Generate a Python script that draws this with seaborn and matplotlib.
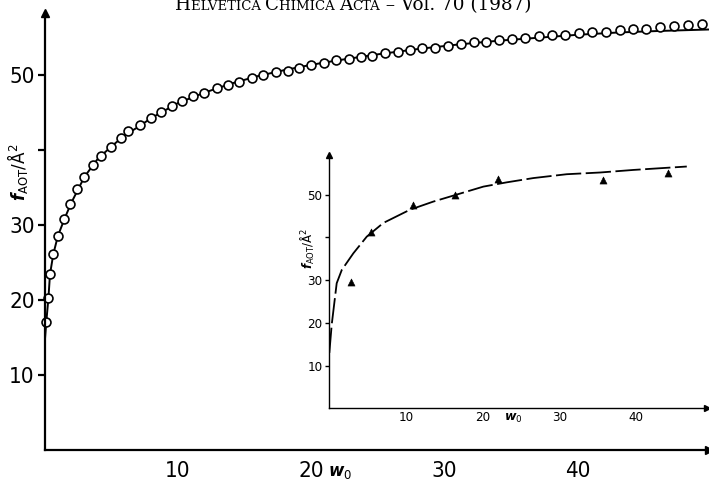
import matplotlib
matplotlib.use("Agg")
import matplotlib.pyplot as plt
import seaborn as sns

# main panel: computed points (circles) and fitted curve
w_pts = [0.13, 0.29, 0.41, 0.66, 1.01, 1.48, 1.91, 2.41, 2.98, 3.63, 4.25, 4.96, 5.71,
         6.28, 7.15, 7.96, 8.75, 9.53, 10.32, 11.15, 11.97, 12.94, 13.77, 14.59, 15.57,
         16.39, 17.34, 18.22, 19.09, 20.01, 20.94, 21.84, 22.79, 23.69, 24.56, 25.51,
         26.46, 27.38, 28.33, 29.30, 30.25, 31.25, 32.17, 33.09, 34.10, 35.07, 36.01,
         37.06, 38.04, 39.04, 40.04, 41.06, 42.06, 43.11, 44.11, 45.11, 46.10, 47.22,
         48.22, 49.27]
f_pts = [17.0, 20.2, 23.4, 26.1, 28.5, 30.8, 32.7, 34.7, 36.4, 37.9, 39.2, 40.4, 41.6,
         42.5, 43.3, 44.2, 45.0, 45.8, 46.5, 47.1, 47.6, 48.2, 48.6, 49.0, 49.6,
         49.9, 50.3, 50.5, 50.9, 51.3, 51.6, 51.9, 52.1, 52.3, 52.5, 52.9,
         53.0, 53.3, 53.5, 53.6, 53.8, 54.1, 54.3, 54.4, 54.6, 54.7, 54.9,
         55.1, 55.2, 55.3, 55.5, 55.6, 55.7, 55.9, 56.0, 56.1, 56.3, 56.4,
         56.6, 56.7]

w_fit = [0, 0.13, 0.29, 0.41, 0.66, 1.0, 1.5, 2, 3, 4, 5, 6, 7, 8, 10, 12, 14, 16, 18,
         20, 22, 25, 28, 31, 34, 37, 40, 43, 46, 49.8]
f_fit = [14.0, 17.0, 20.2, 23.4, 26.1, 28.5, 30.8, 32.9, 36.4, 38.8, 40.4, 41.9, 43.0,
         44.2, 46.2, 47.6, 48.8, 49.8, 50.6, 51.3, 51.9, 52.7, 53.4, 54.0, 54.5, 54.9,
         55.3, 55.6, 55.8, 56.0]

# inset: measured points (triangles) and dashed curve
w_meas = [2.79, 5.40, 10.87, 16.38, 21.95, 35.72, 44.11]
f_meas = [29.5, 41.4, 47.5, 49.9, 53.6, 53.5, 55.0]

w_curve = [0, 0.31, 0.96, 1.62, 3.13, 4.88, 7.04, 10.52, 13.56, 16.17, 20.08, 23.13,
           26.6, 30.95, 35.29, 39.63, 46.6]
f_curve = [13.0, 19.6, 29.3, 32.4, 36.3, 40.2, 43.4, 46.5, 48.4, 49.8, 51.9, 52.9,
           53.9, 54.8, 55.2, 55.8, 56.6]

y_ticks = [10, 20, 30, 40, 50]
y_labels = ["10", "20", "30", "", "50"]
x_ticks = [10, 20, 30, 40]
x_labels = ["10", "20", "30", "40"]

header = [("H", 13.2), ("ELVETICA ", 9.5), ("C", 13.2), ("HIMICA ", 9.5), ("A", 13.2), ("CTA", 9.5),
          (" – Vol. 70 (1987)", 13.2)]

sns.set_theme(style="white")
plt.rcParams["mathtext.fontset"] = "custom"
plt.rcParams["mathtext.it"] = "DejaVu Sans:italic:bold"
plt.rcParams["mathtext.rm"] = "DejaVu Sans"
for key in ["text.color", "axes.labelcolor", "xtick.color", "ytick.color"]:
    plt.rcParams[key] = "black"

fig = plt.figure(figsize=(7.09, 4.84), dpi=100)


def style_axes(ax, xmax, ymax, lw, tick_size, tick_len, xpad, arrow):
    ax.set_xlim(0, xmax)
    ax.set_ylim(0, ymax)
    for s in ["top", "right"]:
        ax.spines[s].set_visible(False)
    for s in ["left", "bottom"]:
        ax.spines[s].set_linewidth(lw)
        ax.spines[s].set_color("black")
    ax.set_xticks(x_ticks)
    ax.set_xticklabels(x_labels, family="DejaVu Sans", stretch="condensed", fontsize=tick_size)
    ax.set_yticks(y_ticks)
    ax.set_yticklabels(y_labels, family="DejaVu Sans", stretch="condensed", fontsize=tick_size)
    ax.tick_params(axis="y", direction="out", length=tick_len, width=lw, pad=2, left=True)
    ax.tick_params(axis="x", direction="in", length=0, pad=xpad, bottom=True)
    ax.plot(1, 0, ">", color="black", ms=arrow, transform=ax.transAxes, clip_on=False)
    ax.plot(0, 1, "^", color="black", ms=arrow, transform=ax.transAxes, clip_on=False)
    ax.patch.set_alpha(0)


# main plot
ax = fig.add_axes([0.0628, 0.0702, 0.937, 0.903])
sns.lineplot(x=w_fit, y=f_fit, ax=ax, color="black", linewidth=1.4, sort=False, estimator=None)
ax.plot(w_pts, f_pts, "o", ms=6.4, mfc="white", mec="black", mew=1.2, clip_on=False)
style_axes(ax, 49.8, 58.2, 1.6, 16, 5, 8, 6)
ax.set_xlabel(r"$w_0$", fontsize=12)
ax.xaxis.set_label_coords(0.445, -0.03)
ax.set_ylabel(r"$f_{\mathrm{AOT}}$/Å$^2$", fontsize=12)
ax.yaxis.set_label_coords(-0.022, 0.636)

# inset
axi = fig.add_axes([0.4645, 0.156, 0.5323, 0.5238])
sns.lineplot(x=w_curve, y=f_curve, ax=axi, color="black", linewidth=1.3, sort=False, estimator=None)
axi.lines[-1].set_dashes((14, 2.5))
sns.scatterplot(x=w_meas, y=f_meas, ax=axi, marker="^", s=26, color="black", edgecolor="black")
style_axes(axi, 49.2, 59.3, 1.0, 9.5, 3, 2, 4)
axi.set_xlabel(r"$w_0$", fontsize=9)
axi.xaxis.set_label_coords(0.487, -0.015)
axi.set_ylabel(r"$f_{\mathrm{AOT}}$/Å$^2$", fontsize=8.5)
axi.yaxis.set_label_coords(-0.032, 0.63)

# journal header, small caps built piece by piece
base_y = 1 - 10 / 484
prev = fig.text(175 / 709, base_y, header[0][0], fontsize=header[0][1],
                family="DejaVu Serif", va="baseline", ha="left")
for txt, size in header[1:]:
    prev = ax.annotate(txt, xy=(1, base_y), xycoords=(prev, "figure fraction"),
                       fontsize=size, family="DejaVu Serif", va="baseline", ha="left",
                       annotation_clip=False)

fig.savefig("out.png", dpi=100)
